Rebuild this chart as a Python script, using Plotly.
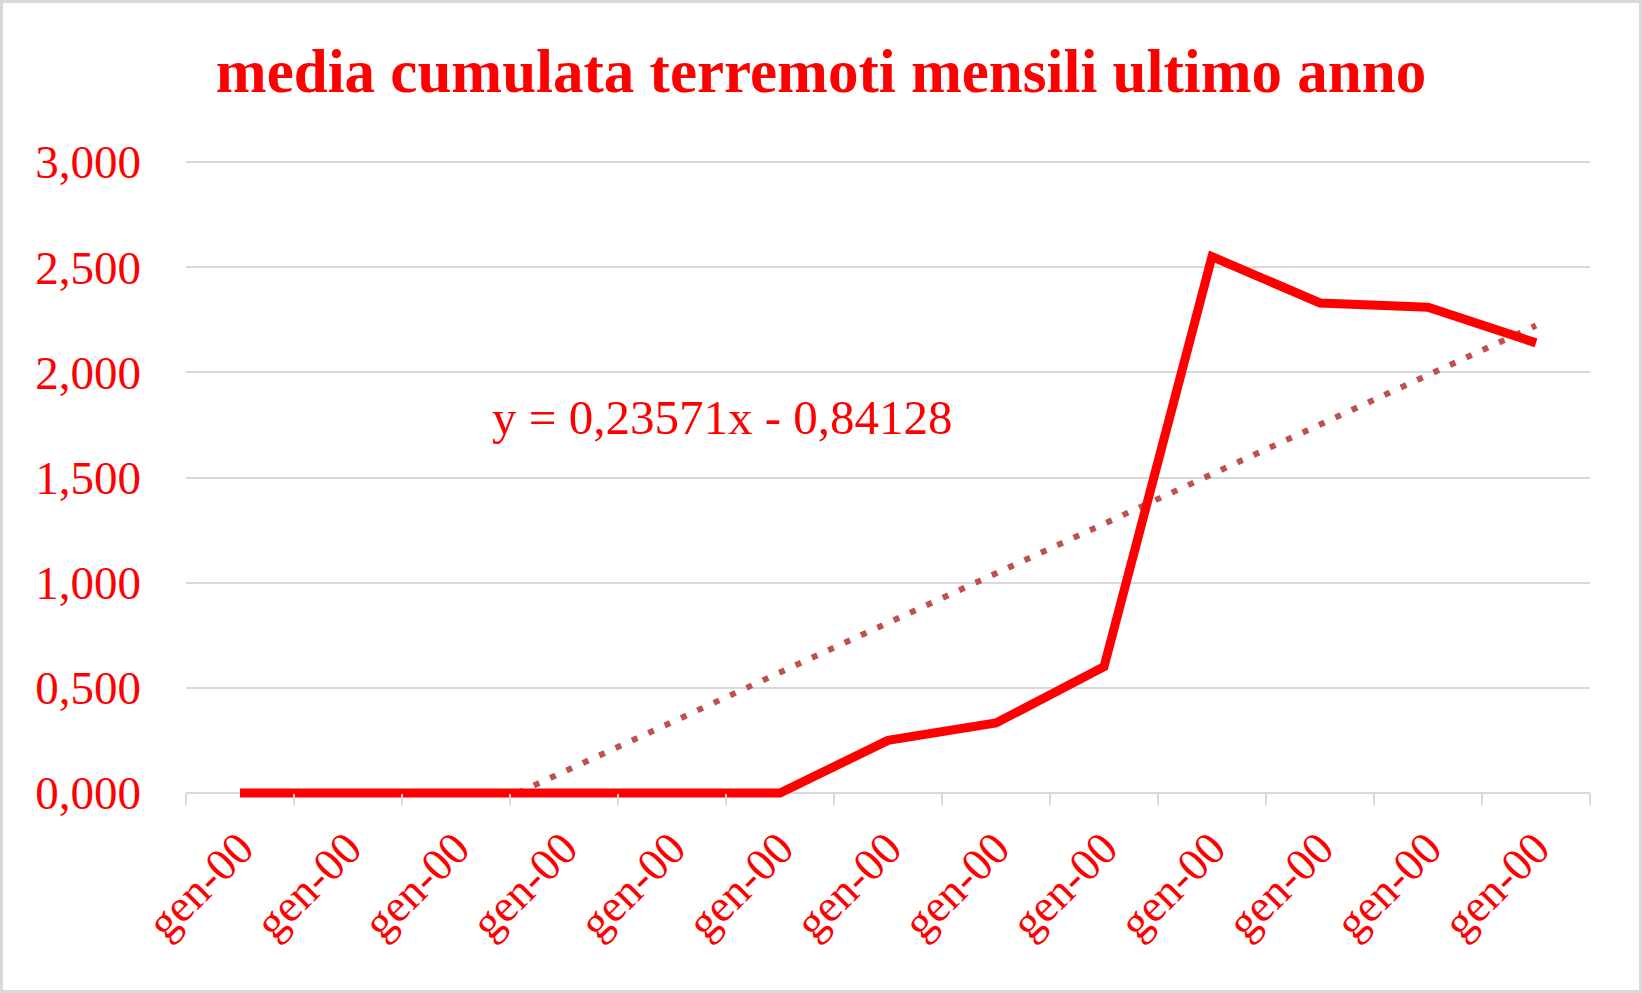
import plotly.graph_objects as go

# dati
mesi = ["gen-00"] * 13
media_cumulata = [0, 0, 0, 0, 0, 0, 0.25, 0.333, 0.6, 2.55, 2.33, 2.31, 2.14]
trend_pendenza = 0.23571
trend_intercetta = -0.84128
y_ticks = [0, 0.5, 1.0, 1.5, 2.0, 2.5, 3.0]

FONT = "Garamond, 'Liberation Serif', serif"
ROSSO = "#FF0000"
GRIGIO = "#D9D9D9"

x = list(range(1, len(mesi) + 1))
x_start = -trend_intercetta / trend_pendenza
x_trend = [x_start, x[-1]]
y_trend = [trend_pendenza * v + trend_intercetta for v in x_trend]

fig = go.Figure()
fig.add_trace(go.Scatter(x=x_trend, y=y_trend, mode="lines",
                         line=dict(color="#C0504D", width=6, dash="6px,12px"),
                         showlegend=False, hoverinfo="skip"))
fig.add_trace(go.Scatter(x=x, y=media_cumulata, mode="lines",
                         line=dict(color=ROSSO, width=9),
                         showlegend=False))

W, H = 1642, 993
px_per_unit = 631 / 3.0  # 3 unita' = 631 px
pad_bot, pad_top = 5, 6
l, r, t, b = 186, 52, 162 - pad_top, 200 - pad_bot
pw, ph = W - l - r, H - t - b
rng = [0.5, len(mesi) + 0.5]
y_min = -pad_bot / px_per_unit
y_max = 3.0 + pad_top / px_per_unit

fig.update_layout(
    width=W, height=H,
    margin=dict(l=l, r=r, t=t, b=b),
    paper_bgcolor="white", plot_bgcolor="white",
    separators=",.",
    font=dict(family=FONT, color=ROSSO, size=44),
    title=dict(text="<b>media cumulata terremoti mensili ultimo anno</b>",
               x=0.5, xref="container", y=1 - 71 / H, yref="container",
               yanchor="middle", xanchor="center",
               font=dict(family=FONT, size=61, color=ROSSO)),
    xaxis=dict(range=rng, tickvals=x, ticktext=mesi, tickangle=-45,
               showgrid=False, zeroline=False, showline=False, ticks="",
               ticklabelstandoff=13, tickfont=dict(size=46)),
    xaxis2=dict(range=rng, overlaying="x", anchor="free", position=pad_bot / ph,
                side="bottom", tickvals=[i + 0.5 for i in range(len(mesi) + 1)],
                ticks="outside", ticklen=11, tickwidth=2, tickcolor=GRIGIO,
                showticklabels=False, showgrid=False, zeroline=False, showline=False),
    yaxis=dict(range=[y_min, y_max], tickvals=y_ticks, tickformat=".3f",
               showgrid=True, gridcolor=GRIGIO, gridwidth=2, zeroline=False,
               showline=False, ticks="", ticklabelstandoff=44,
               tickfont=dict(size=47)),
    annotations=[dict(text="y = 0,23571x - 0,84128", x=(722 - l) / pw, y=1 - (417 - t) / ph,
                      xref="paper", yref="paper", showarrow=False,
                      font=dict(family=FONT, size=49, color=ROSSO))],
    shapes=[dict(type="rect", xref="paper", yref="paper",
                 x0=-(l - 1.5) / pw, x1=1 + (r - 1.5) / pw,
                 y0=-(b - 1.5) / ph, y1=1 + (t - 1.5) / ph,
                 line=dict(color=GRIGIO, width=3), layer="below")],
)
# traccia fantasma per mostrare le tacche tra le categorie
fig.add_trace(go.Scatter(x=[rng[0]], y=[None], xaxis="x2", showlegend=False,
                         hoverinfo="skip"))

fig.write_html("out.html", config={"displayModeBar": False},
               post_script="document.body.style.margin='0';")
